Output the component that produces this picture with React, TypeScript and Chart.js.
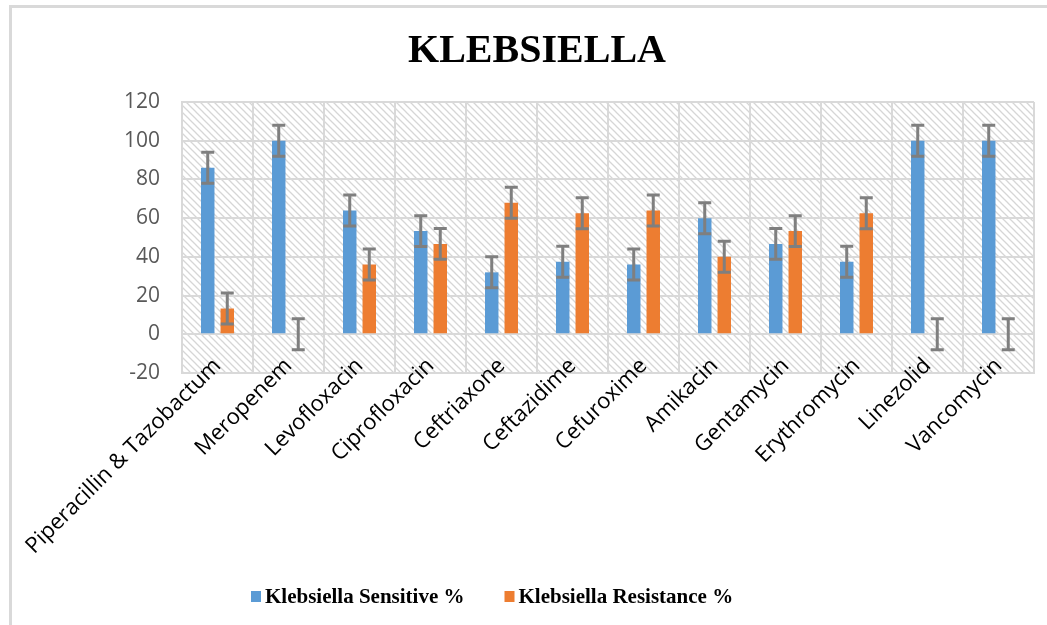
import React, { useEffect, useRef } from "react";
import { Chart, registerables } from "chart.js";

Chart.register(...registerables);

const TITLE = "KLEBSIELLA";
const categories = [
  "Piperacillin & Tazobactum",
  "Meropenem",
  "Levofloxacin",
  "Ciprofloxacin",
  "Ceftriaxone",
  "Ceftazidime",
  "Cefuroxime",
  "Amikacin",
  "Gentamycin",
  "Erythromycin",
  "Linezolid",
  "Vancomycin",
];
const seriesLabels = ["Klebsiella Sensitive %", "Klebsiella Resistance %"];
const sensitive = [86, 100, 64, 53.3, 32, 37.5, 36, 60, 46.7, 37.5, 100, 100];
const resistance = [13.3, 0, 36, 46.7, 68, 62.5, 64, 40, 53.3, 62.5, 0, 0];
const sensitiveErr = [8, 8, 8, 8, 8, 8, 8, 8, 8, 8, 8, 8];
const resistanceErr = [8, 8, 8, 8, 8, 8, 8, 8, 8, 8, 8, 8];
const yMin = -20;
const yMax = 120;
const yStep = 20;

const BLUE = "#5b9bd5";
const ORANGE = "#ed7d31";
const GRID = "#d9d9d9";

function makeHatch(ctx: CanvasRenderingContext2D) {
  const s = 7;
  const c = document.createElement("canvas");
  c.width = s;
  c.height = s;
  const g = c.getContext("2d")!;
  g.fillStyle = "#ffffff";
  g.fillRect(0, 0, s, s);
  g.strokeStyle = "#d6d6d6";
  g.lineWidth = 1.3;
  g.beginPath();
  g.moveTo(-1, -1);
  g.lineTo(s + 1, s + 1);
  g.moveTo(-1, s - 1);
  g.lineTo(1, s + 1);
  g.moveTo(s - 1, -1);
  g.lineTo(s + 1, 1);
  g.stroke();
  return ctx.createPattern(c, "repeat")!;
}

const decorPlugin = {
  id: "decor",
  afterLayout(chart: any) {
    // let rotated category labels overlap the plot edge slightly, as in the reference
    const xs = chart.scales.x;
    if (xs) xs._computeLabelArea = () => undefined;
  },
  beforeDraw(chart: any) {
    const { ctx, chartArea: a } = chart;
    ctx.save();
    ctx.fillStyle = "#ffffff";
    ctx.fillRect(0, 0, chart.width, chart.height);
    ctx.strokeStyle = GRID;
    ctx.lineWidth = 3;
    ctx.strokeRect(10.5, 6.5, chart.width + 20, chart.height + 20);
    ctx.fillStyle = makeHatch(ctx);
    ctx.fillRect(a.left, a.top, a.right - a.left, a.bottom - a.top);
    ctx.restore();
  },
  afterDatasetsDraw(chart: any) {
    const { ctx } = chart;
    const yScale = chart.scales.y;
    ctx.save();
    ctx.strokeStyle = "#7f7f7f";
    ctx.lineWidth = 3;
    chart.data.datasets.forEach((ds: any, i: number) => {
      const meta = chart.getDatasetMeta(i);
      meta.data.forEach((el: any, j: number) => {
        const v = ds.data[j];
        const e = ds.errorBars[j];
        const x = el.x;
        const yt = yScale.getPixelForValue(v + e);
        const yb = yScale.getPixelForValue(v - e);
        const cap = 6.5;
        ctx.beginPath();
        ctx.moveTo(x, yt);
        ctx.lineTo(x, yb);
        ctx.moveTo(x - cap, yt);
        ctx.lineTo(x + cap, yt);
        ctx.moveTo(x - cap, yb);
        ctx.lineTo(x + cap, yb);
        ctx.stroke();
      });
    });
    ctx.restore();
  },
  afterDraw(chart: any) {
    const { ctx } = chart;
    ctx.save();
    ctx.fillStyle = "#000000";
    ctx.font = 'bold 40px "Liberation Serif", "Times New Roman", serif';
    ctx.textAlign = "center";
    ctx.textBaseline = "alphabetic";
    ctx.fillText(TITLE, 537, 62);

    ctx.font = 'bold 21px "Liberation Serif", "Times New Roman", serif';
    ctx.textAlign = "left";
    let x = 251;
    const baseY = 603;
    chart.data.datasets.forEach((ds: any) => {
      ctx.fillStyle = ds.backgroundColor;
      ctx.fillRect(x, 591, 10, 11);
      ctx.fillStyle = "#000000";
      const tx = x + 14;
      ctx.fillText(ds.label, tx, baseY);
      x = tx + ctx.measureText(ds.label).width + 40;
    });
    ctx.restore();
  },
};

export default function App() {
  const ref = useRef<HTMLCanvasElement>(null);
  useEffect(() => {
    const chart = new Chart(ref.current!, {
      type: "bar",
      data: {
        labels: categories,
        datasets: [
          {
            label: seriesLabels[0],
            data: sensitive,
            backgroundColor: BLUE,
            errorBars: sensitiveErr,
            categoryPercentage: 0.55,
            barPercentage: 0.69,
          } as any,
          {
            label: seriesLabels[1],
            data: resistance,
            backgroundColor: ORANGE,
            errorBars: resistanceErr,
            categoryPercentage: 0.55,
            barPercentage: 0.69,
          } as any,
        ],
      },
      options: {
        animation: false,
        responsive: true,
        maintainAspectRatio: false,
        layout: { padding: { top: 102, left: 0, right: 13, bottom: 50 } },
        plugins: {
          legend: { display: false },
          title: { display: false },
          tooltip: { enabled: false },
        },
        scales: {
          x: {
            grid: { color: GRID, lineWidth: 2, offset: true, drawTicks: false },
            border: { color: GRID, width: 2 },
            ticks: {
              autoSkip: false,
              minRotation: 45,
              maxRotation: 45,
              padding: -20,
              color: "#000000",
              font: { family: '"Open Sans", sans-serif', size: 22 },
            },
            afterFit(scale: any) {
              scale.height = 202;
              scale.paddingLeft = 0;
              scale.paddingRight = 0;
            },
          },
          y: {
            min: yMin,
            max: yMax,
            grid: { color: GRID, lineWidth: 2, drawTicks: false },
            border: { color: GRID, width: 2 },
            ticks: {
              stepSize: yStep,
              padding: 22,
              color: "#595959",
              font: { family: '"Open Sans", sans-serif', size: 21 },
            },
            afterFit(scale: any) {
              scale.width = 182;
            },
          },
        },
      },
      plugins: [decorPlugin],
    });
    return () => chart.destroy();
  }, []);
  return (
    <div style={{ position: "fixed", left: 0, top: 0, width: 1047, height: 625 }}>
      <canvas ref={ref} />
    </div>
  );
}
